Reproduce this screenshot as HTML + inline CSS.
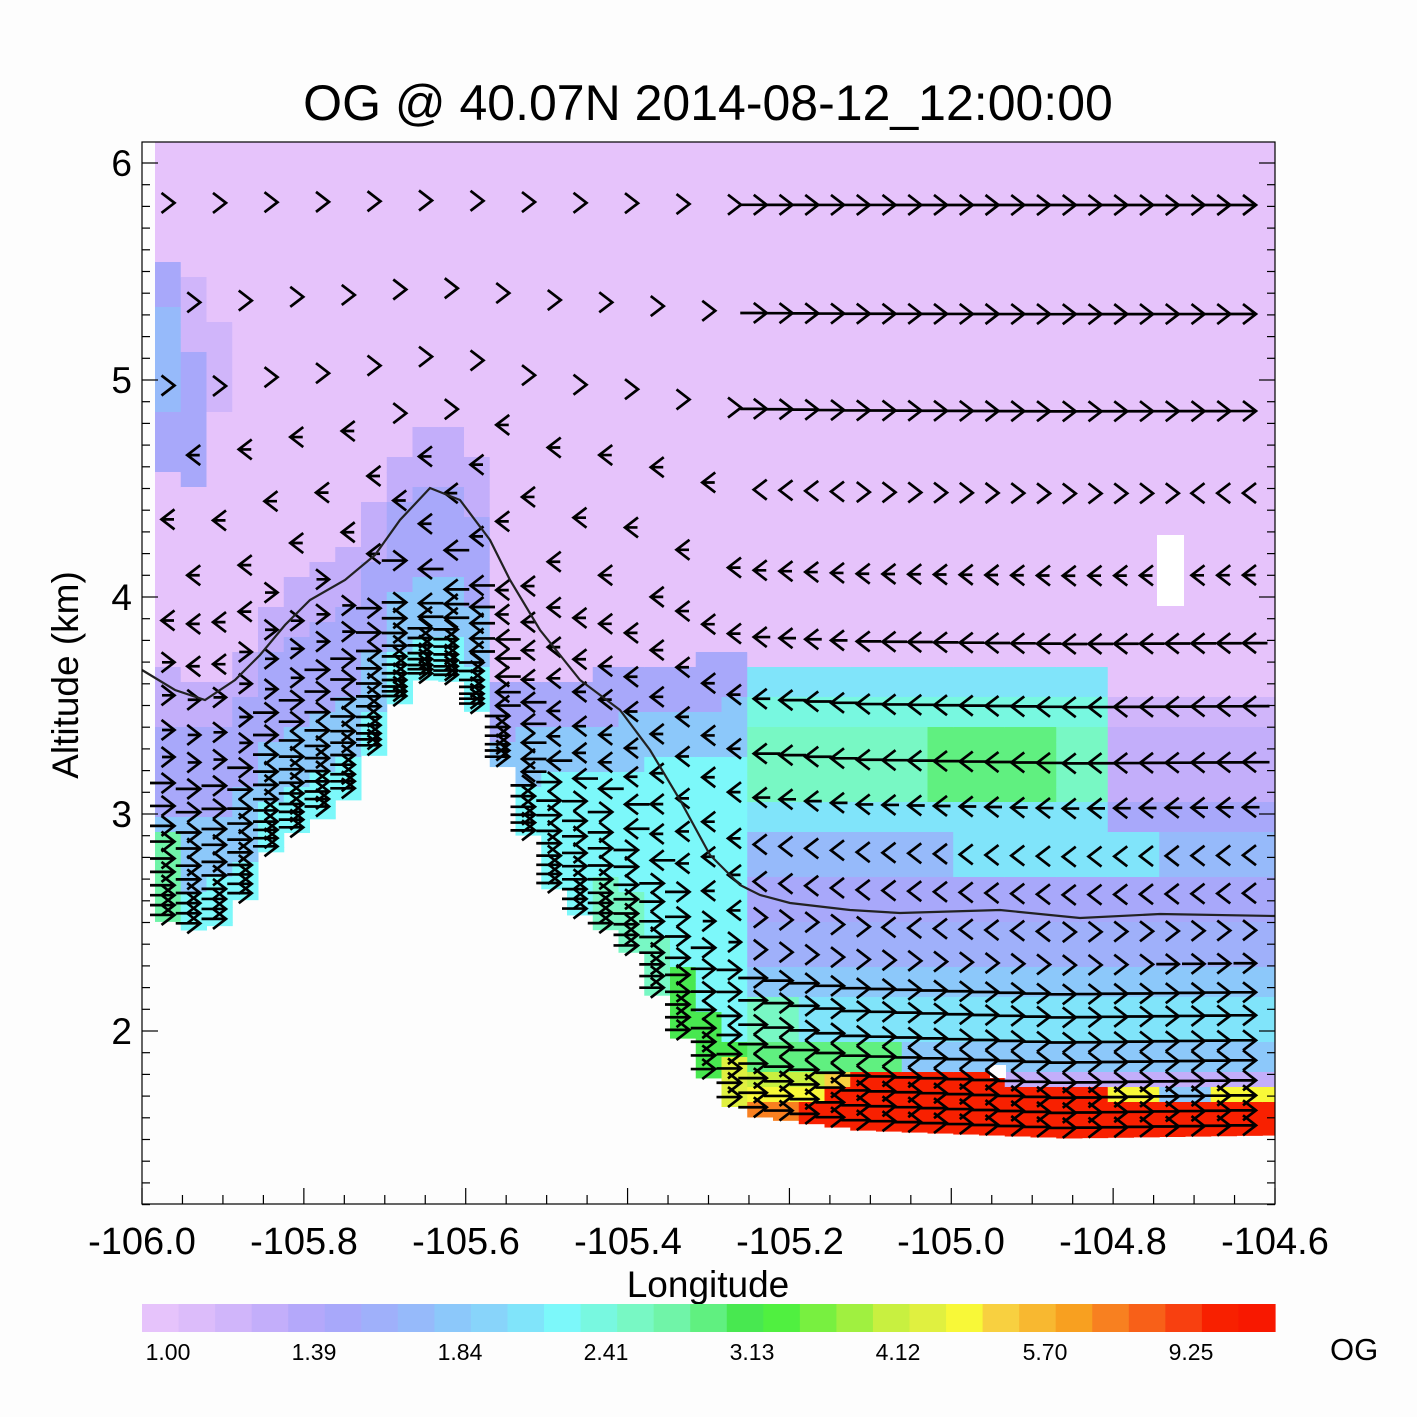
<!DOCTYPE html>
<html><head><meta charset="utf-8"><style>
html,body{margin:0;padding:0;background:#fdfdfd;}
svg{display:block}
text{font-family:"Liberation Sans",sans-serif;fill:#000}
</style></head><body>
<svg id="s" width="1417" height="1417" viewBox="0 0 1417 1417" xmlns="http://www.w3.org/2000/svg">
<rect width="1417" height="1417" fill="#fdfdfd"/>
<g id="cells"></g>
<rect x="1157" y="535" width="27" height="71" fill="#ffffff"/>
<rect x="990" y="1065" width="16" height="13" fill="#ffffff"/>
<g id="arrows" stroke="#000" stroke-width="2.7" fill="none"></g>
<polyline fill="none" stroke="#222" stroke-width="2.2" points="142,670 175,690 205,700 235,680 260,655 285,625 310,600 345,580 375,555 400,520 430,488 460,500 490,540 510,580 540,630 580,680 620,710 650,750 680,800 710,855 740,885 760,895 790,903 850,910 900,913 1000,910 1080,918 1160,914 1275,916"/>
<g id="axes" stroke="#000" stroke-width="1.2"></g>
<rect x="142" y="142" width="1133" height="1062" fill="none" stroke="#000" stroke-width="1.2"/>
<text x="708" y="120" font-size="50" text-anchor="middle">OG @ 40.07N 2014-08-12_12:00:00</text>
<g font-size="38" text-anchor="middle">
<text x="142" y="1254">-106.0</text><text x="304" y="1254">-105.8</text><text x="466" y="1254">-105.6</text><text x="628" y="1254">-105.4</text><text x="790" y="1254">-105.2</text><text x="951" y="1254">-105.0</text><text x="1113" y="1254">-104.8</text><text x="1275" y="1254">-104.6</text>
</g>
<text x="708" y="1297" font-size="37" text-anchor="middle">Longitude</text>
<g font-size="37" text-anchor="end">
<text x="132" y="176">6</text><text x="132" y="393">5</text><text x="132" y="610">4</text><text x="132" y="827">3</text><text x="132" y="1044">2</text>
</g>
<text transform="translate(78,675) rotate(-90)" font-size="37" text-anchor="middle">Altitude (km)</text>
<g id="cbar"></g>
<g font-size="23" text-anchor="middle">
<text x="168" y="1360">1.00</text><text x="314" y="1360">1.39</text><text x="460" y="1360">1.84</text><text x="606" y="1360">2.41</text><text x="752" y="1360">3.13</text><text x="898" y="1360">4.12</text><text x="1045" y="1360">5.70</text><text x="1191" y="1360">9.25</text>
</g>
<text x="1330" y="1360" font-size="31">OG</text>
</svg>
<script>
var NS="http://www.w3.org/2000/svg";
function el(p,t,a){var e=document.createElementNS(NS,t);for(var k in a)e.setAttribute(k,a[k]);p.appendChild(e);return e;}
var cols=["#e6c3fb","#dcbcfa","#d0b5fa","#c3aefa","#b4a8fa","#a8a8fa","#9fb0fa","#96bafa","#8cc8fa","#88d4fa","#80e4fa","#7cf8fa","#78f8e0","#78f8c4","#70f4a8","#60f080","#48e850","#50f040","#78f040","#a0f040","#c8f040","#e0f040","#f8f838","#f8d040","#f8b830","#f8a020","#f88020","#f86018","#f84010","#f82000","#f81800"];
var cb=document.getElementById("cbar");
for(var i=0;i<31;i++)el(cb,"rect",{x:142+i*1133/31,y:1304,width:1133/31+0.6,height:28,fill:cols[i]});
var T=[[142,915],[155,915],[185,930],[215,930],[245,900],[260,860],[300,830],[330,815],[360,790],[390,715],[420,680],[450,680],[480,715],[500,760],[520,810],[540,870],[570,910],[600,925],[630,950],[660,1000],[690,1050],[720,1095],[745,1115],[860,1130],[1070,1138],[1275,1135]];
function terr(x){for(var i=0;i<T.length-1;i++){if(x<=T[i+1][0]){var a=T[i],b=T[i+1];return a[1]+(b[1]-a[1])*(x-a[0])/(b[0]-a[0]);}}return 1135;}
function color(x,y){
 var t=terr(x),d=t-y;
 if(x<185){if(y>260&&y<300)return 5;if(y>300&&y<410)return 7;if(y>410&&y<470)return 5;}
 if(x>=185&&x<212){if(y>275&&y<350)return 2;if(y>350&&y<490)return 5;}
 if(x>=212&&x<240&&y>325&&y<410)return 2;
 if(x<480){
  if(x<185&&y>830)return 14;
  if(d<45)return 11; if(d<110)return 8; if(d<200)return 5; if(d<250)return 3; return 0;}
 if(x<760){
  var pb=690-(x-480)*0.15;
  if(y<pb)return 0;
  if(y<pb+50)return 5;
  if(y<pb+100)return 8;
  if(x>680&&d<70){ if(x>740&&d<30)return 26; if(x>720&&d<45)return 21; return 16;}
  if(x>600&&d<60)return 13;
  return 11;}
 if(y<660)return 0;
 if(y<700)return x<1100?10:0;
 if(y<730)return x<1100?12:2;
 if(y<800){if(x>940&&x<1060)return 15; if(x<1100)return 13; return 3;}
 if(y<830)return x<1100?10:5;
 if(y<870)return x<960||x>1150?7:10;
 if(y<920)return 5;
 if(y<960)return 6;
 if(y<1000)return 8;
 if(y<1040)return x<800?13:10;
 if(y<1065)return x<900?15:8;
 if(y<1085){if(x<830)return 20; if(x<860)return 23; if(x<1000)return 29; return 3;}
 if(y<1100){if(x<830)return 22; if(x<1120)return 29; if(x<1160)return 22; if(x<1200)return 8; return 22;}
 if(x<800)return 26;
 return 29;
}
var cg=document.getElementById("cells");
var cw=25.75;
for(var x0=155;x0<1275;x0+=cw){
 var w=Math.min(cw,1275-x0),xc=x0+w/2,t=terr(xc);
 for(var y0=142;y0<t;y0+=15){
  var h=Math.min(15,t-y0);
  el(cg,"rect",{x:x0,y:y0,width:w+0.5,height:h+0.5,fill:cols[color(xc,y0+h/2)]});
 }
}
var lev=[1125,1110,1095,1080,1060,1040,1015,992,963,930,893,855,807,762,706,643,575,493,411,314,205];
var ag=document.getElementById("arrows");
var ci=0;
for(var ax=168;ax<1275;ax+=25.75,ci++){
 var t=terr(ax);
 for(var j=0;j<lev.length;j++){
  var s=(1135-lev[j])/985;
  var y=lev[j]+(t-1135)*Math.pow(1-s,1.6);
  if(y>t-5||y<150)continue;
  if(ax>1150&&ax<1190&&y>535&&y<606)continue;
  if(ax<740&&y<600&&((ci+j)%2==1))continue;
  var d=t-y,dir=1,L=0;
  if(ax<760){
   if(y<420)dir=1; else if(y<560)dir=-1;
   else if(ax<420) dir=(d<260)?1:-1;
   else if(ax<540) dir=(d<60)?1:-1;
   else dir=(d<(ax>680?170:120))?1:-1;
   L=(d<150)?18:(y<420?0:6);
  } else {
   if(y<440){dir=1;L=20;}
   else if(y<530){dir=(ax>840&&ax<1190)?1:-1;L=0;}
   else if(y<600){dir=-1;L=6;}
   else if(y<700){dir=-1;L=ax<850?10:18;}
   else if(y<790){dir=-1;L=20;}
   else if(y<910){dir=-1;L=y<830?10:0;}
   else if(y<945){dir=(ax<880||ax>1050)?1:-1;L=0;}
   else if(y<975){dir=1;L=ax>1150?16:0;}
   else {dir=1;L=22;}
  }
  var p="M"+(ax-6.5*dir)+","+(y-10)+"L"+(ax+6.5*dir)+","+y+"L"+(ax-6.5*dir)+","+(y+10);
  if(L>0)p+="M"+(ax+6*dir)+","+y+"L"+(ax+6*dir-L*dir-6*dir)+","+y;
  el(ag,"path",{d:p});
 }
}
var axg=document.getElementById("axes");
for(var k=0;k<=28;k++){var x=142+k*1133/28;var len=(k%4==0)?16:9;el(axg,"line",{x1:x,y1:1204,x2:x,y2:1204-len});}
for(var a=1.2;a<=6.09;a+=0.1){var v=Math.round(a*10);var y=163+(6-v/10)*217;var len=(v%10==0)?16:8;
 el(axg,"line",{x1:142,y1:y,x2:142+len,y2:y});el(axg,"line",{x1:1275,y1:y,x2:1275-len,y2:y});}
</script>
</body></html>
